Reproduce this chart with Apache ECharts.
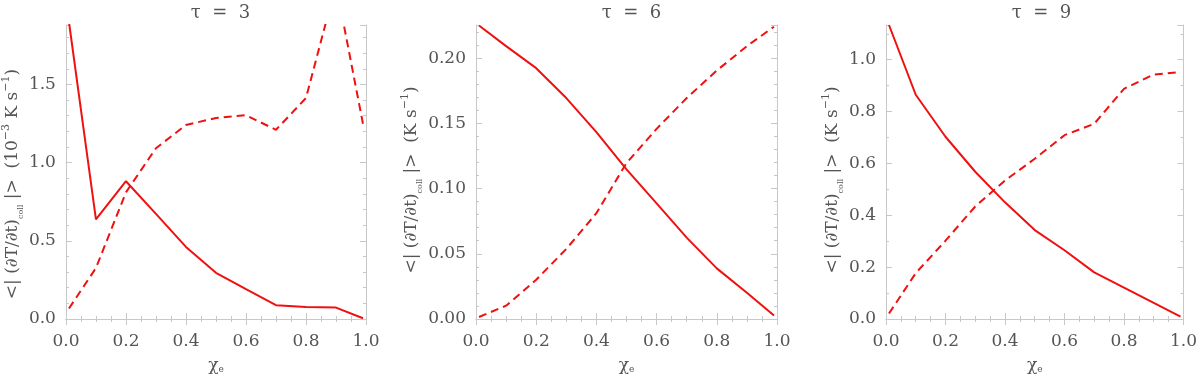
<!DOCTYPE html>
<html>
<head>
<meta charset="utf-8">
<script src="https://cdn.jsdelivr.net/npm/echarts@6/dist/echarts.min.js"></script>
<style>
  html, body { margin: 0; padding: 0; background: #fff; }
  #chart { width: 1200px; height: 379px; }
</style>
</head>
<body>
<div id="chart"></div>
<script>
// chi_e sample points
var chiE = [0.01, 0.1, 0.2, 0.3, 0.4, 0.5, 0.6, 0.7, 0.8, 0.9, 0.99]

// tau = 3 (units 1e-3 K/s)
var tau3Solid = [1.90, 0.637, 0.881, 0.672, 0.461, 0.295, 0.191, 0.088, 0.076, 0.073, 0.005]
var tau3Dashed = [0.067, 0.326, 0.81, 1.092, 1.241, 1.285, 1.303, 1.21, 1.413, 2.14, 1.247]

// tau = 6 (K/s)
var tau6Solid = [0.225, 0.2092, 0.1923, 0.1694, 0.1433, 0.1147, 0.0886, 0.0624, 0.0388, 0.0201, 0.0027]
var tau6Dashed = [0.0015, 0.0102, 0.0301, 0.0537, 0.0811, 0.1196, 0.1458, 0.1694, 0.1905, 0.2092, 0.2241]

// tau = 9 (K/s)
var tau9Solid = [1.134, 0.865, 0.703, 0.568, 0.450, 0.343, 0.265, 0.180, 0.121, 0.062, 0.009]
var tau9Dashed = [0.021, 0.177, 0.302, 0.434, 0.534, 0.618, 0.709, 0.753, 0.888, 0.943, 0.953]

var titles = ['\u03c4  =  3', '\u03c4  =  6', '\u03c4  =  9']
var yUnits = [['10', '\u22123', ' K s', '\u22121', ')'], ['', '', 'K s', '\u22121', ')'], ['', '', 'K s', '\u22121', ')']]
var yMax = [1.88, 0.2254, 1.134]
var yStep = [0.5, 0.05, 0.2]
var yMinorStep = [0.1, 0.01, 0.1]
var yDigits = [1, 2, 1]

var panelLeft = [65, 476, 886]
var panelWidth = 301
var nameGaps = [40, 52, 40]
var nameShift = [24, 16, 16]

var textColor = '#555'
var frameColor = '#c8c8c8'
var red = '#f01010'
var font = 'DejaVu Serif'

function pairs(ys) {
  return chiE.map(function (x, i) { return [x, ys[i]] })
}

function yName(u) {
  var s = '<| (\u2202T/\u2202t){sub|coll} |>  ('
  if (u[0]) {
    s += u[0] + '{sup|' + u[1] + '}' + u[2] + '{sup|' + u[3] + '}' + u[4]
  } else {
    s += u[2] + '{sup|' + u[3] + '}' + u[4]
  }
  return s
}

var grids = []
var xAxes = []
var yAxes = []
var titleList = []
var series = []
var data = [[tau3Solid, tau3Dashed], [tau6Solid, tau6Dashed], [tau9Solid, tau9Dashed]]

for (var p = 0; p < 3; p++) {
  grids.push({ left: panelLeft[p], width: panelWidth, top: 25, height: 302, show: false })
  titleList.push({
    text: titles[p],
    left: panelLeft[p] + panelWidth / 2,
    textAlign: 'center',
    top: -1,
    textStyle: { fontFamily: font, fontSize: 18, fontWeight: 'normal', color: textColor }
  })
  var xBase = {
    type: 'value', gridIndex: p, min: 0, max: 1, interval: 0.2,
    axisLine: { show: true, lineStyle: { color: frameColor, width: 1 } },
    axisTick: { show: true, inside: true, length: 6, lineStyle: { color: frameColor } },
    minorTick: { show: true, splitNumber: 4, length: 3, lineStyle: { color: frameColor } },
    splitLine: { show: false }
  }
  xAxes.push(Object.assign({}, xBase, {
    position: 'bottom',
    name: '\u03c7{sub|e}',
    nameLocation: 'middle',
    nameGap: 38,
    nameTextStyle: {
      fontFamily: font, fontSize: 17, color: textColor,
      rich: { sub: { fontFamily: font, fontSize: 9, color: textColor, verticalAlign: 'bottom' } }
    },
    axisLabel: {
      show: true, margin: 14, fontFamily: font, fontSize: 17, color: textColor,
      formatter: function (v) { return v.toFixed(1) }
    }
  }))
  xAxes.push(Object.assign({}, xBase, { position: 'top', axisLabel: { show: false } }))

  var yBase = {
    type: 'value', gridIndex: p, min: 0, max: yMax[p],
    axisLine: { show: true, lineStyle: { color: frameColor, width: 1 } },
    splitLine: { show: false }
  }
  var d = yDigits[p]
  // left major
  yAxes.push(Object.assign({}, yBase, {
    position: 'left', interval: yStep[p],
    axisTick: { show: true, inside: true, length: 6, lineStyle: { color: frameColor } },
    axisLabel: {
      show: true, margin: 10, fontFamily: font, fontSize: 17, color: textColor, showMaxLabel: false,
      formatter: function (dd) { return function (v) { return v.toFixed(dd) } }(d)
    },
    name: yName(yUnits[p]),
    nameLocation: 'middle',
    nameRotate: 90,
    nameGap: nameGaps[p],
    nameTextStyle: {
      fontFamily: font, fontSize: 17, color: textColor, lineHeight: 24,
      padding: [0, nameShift[p], 0, 0],
      rich: {
        sub: { fontFamily: font, fontSize: 8, color: textColor, verticalAlign: 'bottom' },
        sup: { fontFamily: font, fontSize: 11, color: textColor, verticalAlign: 'top' }
      }
    }
  }))
  // left minor
  yAxes.push(Object.assign({}, yBase, {
    position: 'left', interval: yMinorStep[p],
    axisLine: { show: false },
    axisTick: { show: true, inside: true, length: 3, lineStyle: { color: frameColor } },
    axisLabel: { show: false }
  }))
  // right major
  yAxes.push(Object.assign({}, yBase, {
    position: 'right', interval: yStep[p],
    axisTick: { show: true, inside: true, length: 6, lineStyle: { color: frameColor } },
    axisLabel: { show: false }
  }))
  // right minor
  yAxes.push(Object.assign({}, yBase, {
    position: 'right', interval: yMinorStep[p],
    axisLine: { show: false },
    axisTick: { show: true, inside: true, length: 3, lineStyle: { color: frameColor } },
    axisLabel: { show: false }
  }))

  series.push({
    type: 'line', xAxisIndex: 2 * p, yAxisIndex: 4 * p,
    data: pairs(data[p][0]), showSymbol: false, clip: true,
    lineStyle: { color: red, width: 2 }
  })
  series.push({
    type: 'line', xAxisIndex: 2 * p, yAxisIndex: 4 * p,
    data: pairs(data[p][1]), showSymbol: false, clip: true,
    lineStyle: { color: red, width: 2, type: [8, 5] }
  })
}

var chart = echarts.init(document.getElementById('chart'))
chart.setOption({
  animation: false,
  backgroundColor: '#fff',
  title: titleList,
  grid: grids,
  xAxis: xAxes,
  yAxis: yAxes,
  series: series
})
</script>
</body>
</html>
